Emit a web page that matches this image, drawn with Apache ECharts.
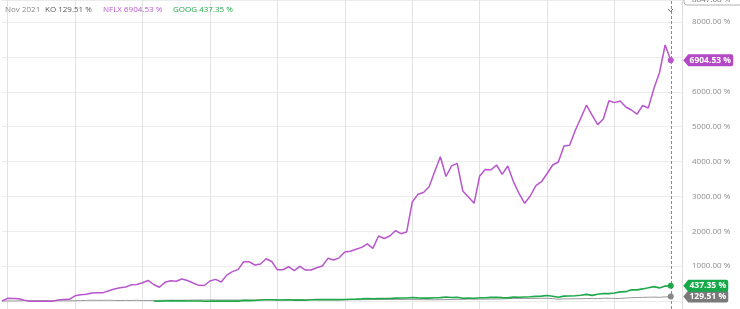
<!DOCTYPE html>
<html>
<head>
<meta charset="utf-8">
<script src="https://cdn.jsdelivr.net/npm/echarts@6/dist/echarts.min.js"></script>
<style>
html,body{margin:0;padding:0;background:#fff;}
#chart{width:740px;height:309px;}
</style>
</head>
<body>
<div id="chart"></div>
<script>
// ---- data (monthly, % change) ----
const startYear = 2011, startMonth = 12;   // first category: Dec 2011
const axisMonths = 122;                    // Dec 2011 .. Jan 2022 (axis extent)
const headerLabel = 'Nov 2021';
const cursorValueText = '8847.08 %';

const nflxValues = [
  0, 77, 72, 66, 20, -5, -10, -10, -10, -5,
  30, 40, 50, 150, 180, 195, 230, 238, 240, 292,
  344, 378, 400, 464, 476, 525, 590, 473, 396, 536,
  582, 565, 630, 588, 516, 450, 444, 573, 620, 545,
  743, 843, 900, 1127, 1124, 1032, 1061, 1213, 1133, 895,
  897, 983, 872, 992, 889, 889, 955, 1003, 1224, 1175,
  1238, 1408, 1425, 1482, 1537, 1640, 1511, 1864, 1792, 1864,
  2016, 1930, 1978, 2838, 3059, 3111, 3274, 3713, 4137, 3570,
  3876, 3948, 3154, 2982, 2801, 3584, 3768, 3762, 3900, 3633,
  3871, 3424, 3083, 2801, 3011, 3309, 3421, 3656, 3900, 3986,
  4444, 4465, 4889, 5247, 5614, 5328, 5058, 5219, 5741, 5689,
  5735, 5563, 5477, 5356, 5606, 5534, 6093, 6552, 7341, 6904.53
];
const googStartIndex = 27; // Mar 2014
const googValues = [
  0, -5, 2, 4, 3, 4, 2, 0, 1, -6,
  -4, -1, -3, -3, -4, -4, 17, 12, 14, 31,
  37, 36, 32, 29, 36, 26, 30, 24, 37, 41,
  43, 41, 40, 41, 45, 51, 53, 62, 74, 63,
  69, 70, 74, 84, 85, 87, 101, 90, 84, 84,
  93, 98, 117, 102, 109, 78, 88, 81, 92, 95,
  105, 109, 97, 89, 111, 109, 117, 124, 132, 139,
  158, 138, 107, 140, 143, 152, 165, 191, 162, 193,
  215, 213, 232, 262, 268, 322, 320, 347, 378, 412,
  376, 428, 437.35
];
const koValues = [
  0, 2, 0, 5, 10, 8, 12, 14, 13, 10, 8, 7,
  6, 9, 12, 18, 22, 18, 20, 22, 16, 14, 17, 16,
  20, 12, 14, 16, 19, 21, 24, 22, 23, 25, 27, 30,
  28, 32, 30, 28, 29, 30, 27, 30, 29, 27, 33, 32,
  32, 32, 30, 38, 38, 36, 37, 35, 35, 33, 34, 31,
  33, 33, 36, 37, 38, 41, 42, 43, 43, 43, 44, 45,
  46, 48, 38, 38, 36, 37, 38, 41, 44, 47, 46, 55,
  50, 52, 52, 56, 57, 60, 68, 74, 73, 75, 72, 74,
  78, 80, 69, 50, 62, 63, 66, 67, 71, 70, 68, 78,
  80, 73, 75, 85, 96, 100, 104, 108, 112, 106, 118, 129.51
];
// visible value range of the plot (top edge .. bottom edge) and tick step
const yRange = { min: -229, max: 8631, step: 1000 };

// ---- build ----
const categories = [];
for (let k = 0; k < axisMonths; k++) {
  const m = (startMonth - 1 + k) % 12 + 1;
  const y = startYear + Math.floor((startMonth - 1 + k) / 12);
  categories.push(y + '-' + String(m).padStart(2, '0'));
}
const googData = new Array(googStartIndex).fill(null).concat(googValues);
const lastIdx = nflxValues.length - 1;
const lastCat = categories[lastIdx];

const C = {
  nflx: '#b856cc', nflxBadge: '#b548c6',
  goog: '#1fa84b', googBadge: '#16a849',
  ko: '#9a9a9a', koBadge: '#7a7a7a'
};
const FONT = 'Open Sans';

function fmt(v) { return v.toFixed(2) + ' %'; }

function endMarks(values, dotColor, badgeColor) {
  const v = values[values.length - 1];
  const txt = fmt(v);
  const w = txt.length * 5 + 5;
  const h = 12;
  const path = 'path://M0,' + h/2 + ' L5,0 L' + (w-2) + ',0 Q' + w + ',0 ' + w + ',2 L' + w + ',' + (h-2) +
               ' Q' + w + ',' + h + ' ' + (w-2) + ',' + h + ' L5,' + h + ' Z';
  return {
    silent: true,
    animation: false,
    data: [
      { coord: [lastCat, v], symbol: 'circle', symbolSize: 6,
        itemStyle: { color: dotColor }, label: { show: false } },
      { coord: [lastCat, v], symbol: path, symbolSize: [w, h],
        symbolOffset: [12.5 + w / 2, 0],
        itemStyle: { color: badgeColor },
        label: { show: true, position: 'inside', formatter: txt, offset: [2, 0],
                 color: '#fff', fontWeight: 'bold', fontSize: 8.5, fontFamily: FONT } }
    ]
  };
}

const chart = echarts.init(document.getElementById('chart'), null, { renderer: 'canvas' });
chart.setOption({
  animation: false,
  backgroundColor: '#fff',
  title: {
    left: 5, top: 6, padding: 0,
    text: '{d|' + headerLabel + '}{k|KO ' + fmt(koValues[koValues.length-1]) + '}{n|NFLX ' +
          fmt(nflxValues[lastIdx]) + '}{g|GOOG ' + fmt(googValues[googValues.length-1]) + '}',
    textStyle: {
      fontFamily: FONT, fontSize: 8, fontWeight: 'normal',
      rich: {
        d: { color: '#8a8a8a', fontFamily: FONT, fontSize: 8, width: 40 },
        k: { color: '#5a5a5a', fontFamily: FONT, fontSize: 8, width: 58 },
        n: { color: C.nflx, fontFamily: FONT, fontSize: 8, width: 70 },
        g: { color: C.goog, fontFamily: FONT, fontSize: 8 }
      }
    }
  },
  grid: { left: 2, right: 58, top: 0, bottom: 0, containLabel: false },
  xAxis: {
    type: 'category',
    data: categories,
    boundaryGap: false,
    axisLine: { show: false },
    axisTick: { show: false },
    axisLabel: { show: false },
    splitLine: {
      show: true,
      interval: function (idx, val) { return val.endsWith('-01'); },
      lineStyle: { color: '#e2e2e2', width: 1 }
    }
  },
  yAxis: {
    type: 'value',
    position: 'right',
    min: yRange.min, max: yRange.max,
    minInterval: yRange.step, maxInterval: yRange.step,
    axisLine: { show: true, lineStyle: { color: '#dedede' } },
    axisTick: { show: false },
    splitLine: { show: true, lineStyle: { color: '#ececec', width: 1 } },
    axisLabel: {
      margin: 10, color: '#8c8c8c', fontSize: 8, fontFamily: FONT,
      showMinLabel: false, showMaxLabel: false,
      formatter: function (v) {
        if (v <= 0 || v % yRange.step !== 0 || v === 7000) return '';
        return fmt(v);
      }
    }
  },
  series: [
    {
      name: 'KO', type: 'line', data: koValues, showSymbol: false, z: 2,
      lineStyle: { color: C.ko, width: 1 }, itemStyle: { color: C.ko },
      markPoint: endMarks(koValues, '#888', C.koBadge)
    },
    {
      name: 'GOOG', type: 'line', data: googData, showSymbol: false, z: 3,
      lineStyle: { color: C.goog, width: 1.6 }, itemStyle: { color: C.goog },
      markPoint: endMarks(googValues, C.goog, C.googBadge)
    },
    {
      name: 'NFLX', type: 'line', data: nflxValues, showSymbol: false, z: 4,
      lineStyle: { color: C.nflx, width: 1.5 }, itemStyle: { color: C.nflx },
      markPoint: endMarks(nflxValues, C.nflx, C.nflxBadge),
      markLine: {
        silent: true, symbol: 'none', animation: false,
        label: { show: false },
        lineStyle: { color: '#8a8a8a', type: [3, 2], width: 1 },
        data: [{ xAxis: lastCat }]
      }
    }
  ],
  graphic: [
    { type: 'rect', shape: { x: 684, y: -10, width: 60, height: 15, r: 3 },
      style: { fill: '#fff', stroke: '#b0b0b0', lineWidth: 1 }, z: 50 },
    { type: 'text', x: 692, y: -4, style: { text: cursorValueText, fill: '#777', fontSize: 8,
      fontFamily: FONT }, z: 51 },
    { type: 'polyline', shape: { points: [[668, 9], [670.5, 11.5], [673, 9]] },
      style: { stroke: '#666', lineWidth: 1, fill: null }, z: 50 }
  ]
});
</script>
</body>
</html>
